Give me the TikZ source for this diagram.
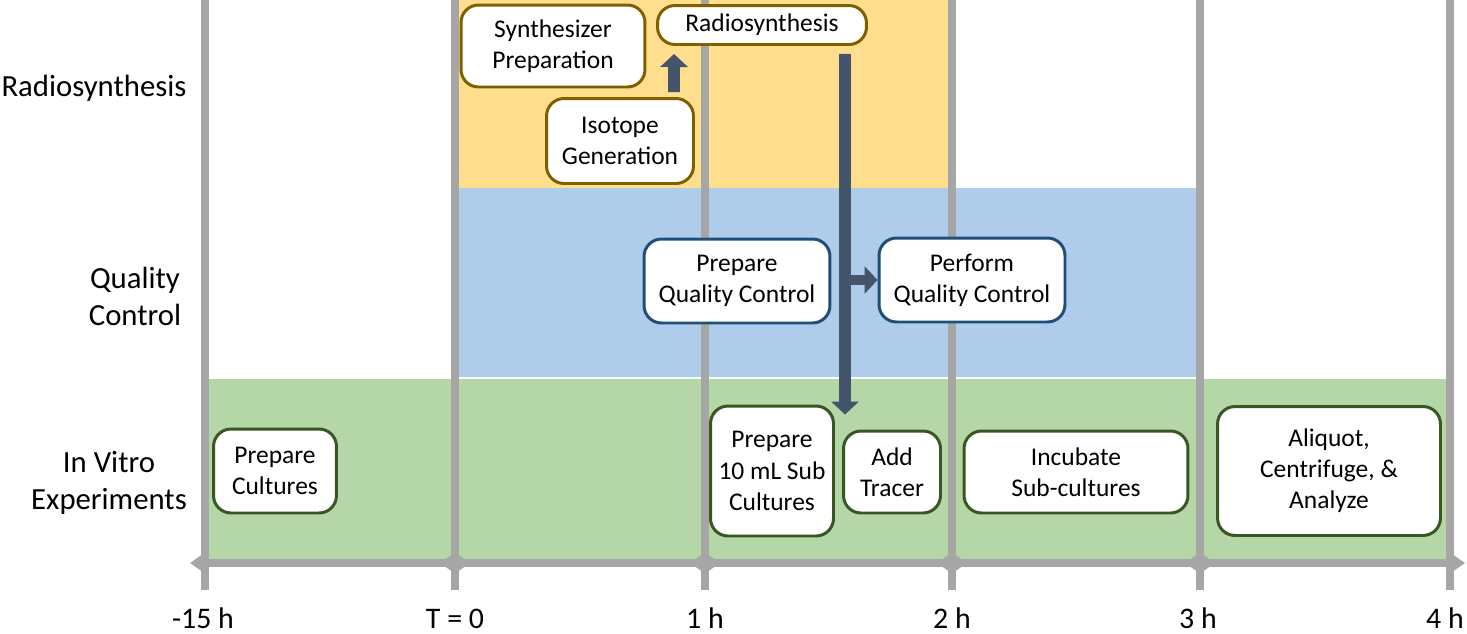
\documentclass[tikz,border=0pt]{standalone}
\usepackage{fontspec}
\setmainfont{Carlito}
\usetikzlibrary{arrows.meta, positioning, calc}
\definecolor{synYellow}{HTML}{FFDE8E}
\definecolor{qcBlue}{HTML}{AFCDEA}
\definecolor{vitroGreen}{HTML}{B5D6A7}
\definecolor{synBrown}{HTML}{7F6000}
\definecolor{qcNavy}{HTML}{1F4E79}
\definecolor{vitroDark}{HTML}{385723}
\definecolor{arrowSlate}{HTML}{44546A}
\definecolor{gridGray}{HTML}{A6A6A6}

\begin{document}
\begin{tikzpicture}[x=0.02cm, y=-0.02cm,
    stage/.style={draw, fill=white, line width=1.7pt, rounded corners=0.35cm,
      align=center, inner sep=2pt, font=\fontsize{14.5}{17.7}\selectfont},
    synbox/.style={stage, draw=synBrown},
    qcbox/.style={stage, draw=qcNavy},
    vitrobox/.style={stage, draw=vitroDark},
    rowlabel/.style={align=center, font=\fontsize{17.5}{21}\selectfont},
    ticklabel/.style={anchor=base, font=\fontsize{17}{20}\selectfont},
    flowarrow/.style={draw=arrowSlate, line width=6.8pt,
      -{Triangle[width=15.4pt, length=7.4pt]}},
    gridline/.style={draw=gridGray, line width=4.5pt},
    axisline/.style={draw=gridGray, line width=4.5pt,
      {Triangle[width=11.4pt, length=8.5pt]}-{Triangle[width=11.4pt, length=8.5pt]}}]
  \useasboundingbox (0,0) rectangle (1467,633);

  % swim lanes
  \fill[synYellow] (455,0) rectangle (952,188);
  \fill[qcBlue] (455,188) rectangle (1200,377);
  \fill[vitroGreen] (205,379) rectangle (1450,563);

  % time grid and axis
  \foreach \x/\lx/\t in {205/203/{-15 h}, 455/455/{T = 0}, 705/705/{1 h},
      952/952/{2 h}, 1200/1198/{3 h}, 1450/1445/{4 h}} {
    \draw[gridline] (\x,0) -- (\x,590);
    \node[ticklabel] (t\x) at (\lx,628) {\t};
  }
  \foreach \a/\b in {205/455, 455/705, 705/952, 952/1200, 1200/1450}
    \draw[axisline] (\a-15,563) -- (\b+15,563);

  % lane titles
  \node[rowlabel] (rowsyn) at (94,88) {Radiosynthesis};
  \node[rowlabel] (rowqc) at (135,296) {Quality\\Control};
  \node[rowlabel] (rowvit) at (109,483) {In Vitro\\Experiments};

  % radiosynthesis steps
  \node[synbox, minimum width=3.68cm, minimum height=1.64cm] (synth) at (553,46)
    {Synthesizer\\Preparation};
  \node[synbox, minimum width=4.18cm, minimum height=0.78cm] (radio) at (762,25)
    {Radiosynthesis};
  \node[synbox, minimum width=2.94cm, minimum height=1.70cm] (iso) at (620,141)
    {Isotope\\Generation};

  % quality control steps
  \node[qcbox, minimum width=3.72cm, minimum height=1.68cm] (prepqc) at (737,281)
    {Prepare\\Quality Control};
  \node[qcbox, minimum width=3.72cm, minimum height=1.68cm] (perfqc) at (972,280)
    {Perform\\Quality Control};

  % in vitro steps
  \node[vitrobox, minimum width=2.46cm, minimum height=1.68cm] (cult) at (275,471)
    {Prepare\\Cultures};
  \node[vitrobox, minimum width=2.46cm, minimum height=2.60cm] (sub) at (772,471)
    {Prepare\\10 mL Sub\\Cultures};
  \node[vitrobox, minimum width=1.94cm, minimum height=1.64cm] (tracer) at (892,472)
    {Add\\Tracer};
  \node[vitrobox, minimum width=4.48cm, minimum height=1.64cm] (incub) at (1076,472)
    {Incubate\\Sub-cultures};
  \node[vitrobox, minimum width=4.46cm, minimum height=2.58cm] (aliq) at (1329,471)
    {Aliquot,\\Centrifuge, \&\\Analyze};

  % flow
  \draw[flowarrow] ($(iso.north)+(54,-5)$) -- ($(radio.south west)+(18,8)$);
  \draw[flowarrow] ($(radio.south east)+(-23,8)$) -- ($(sub.north east)+(10,10)$);
  \draw[flowarrow, line width=5.4pt] ($(perfqc.west)+(-27,0)$) -- (perfqc.west);
\end{tikzpicture}
\end{document}
